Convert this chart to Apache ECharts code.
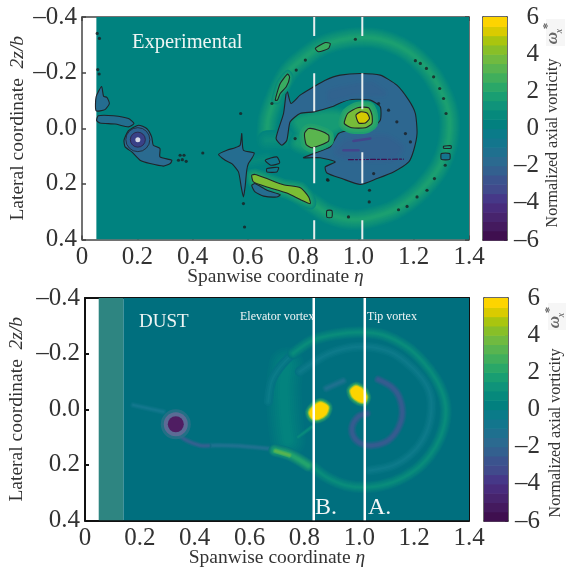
<!DOCTYPE html>
<html>
<head>
<meta charset="utf-8">
<style>html,body{margin:0;padding:0;background:#fff}#c{width:566px;height:572px}#c canvas{filter:blur(.45px)}</style>
<script src="https://cdn.jsdelivr.net/npm/echarts@6/dist/echarts.min.js"></script>
</head>
<body>
<div id="c"></div>
<script>
// ---------- colour scale: 24 bands from -6 to 6 ----------
const bandColors = ['#3f0f4f','#441a5e','#47246d','#482c7c','#463888','#414a8c','#3b538e','#33608f','#2b6a90','#1f708f','#13768d','#0a7b89',
  '#02807f','#06897c','#0f937a','#199e72','#2aa768','#40ae5c','#58b450','#70ba40','#88bf28','#a9c50f','#d9cb00','#fdd400'];

// ---------- experimental panel (eta, z) ----------
const expRing = [[.669,.043],[.675,-.041],[.717,-.149],[.753,-.209],[.801,-.251],[.862,-.293],[.934,-.317],[1.007,-.326],[1.079,-.320],[1.152,-.293],[1.212,-.251],[1.266,-.191],[1.308,-.113],[1.327,-.053],[1.330,.001],[1.321,.067],[1.296,.133],[1.254,.193],[1.200,.247],[1.127,.295],[1.055,.319],[1.007,.328],[.946,.325],[.886,.305],[.838,.274],[.789,.241]];
const expCrescent = [[.741,-.137],[.756,-.089],[.789,-.119],[.838,-.149],[.880,-.173],[.934,-.191],[1.007,-.197],[1.079,-.191],[1.139,-.155],[1.182,-.101],[1.206,-.053],[1.212,.019],[1.200,.079],[1.182,.121],[1.127,.157],[1.067,.181],[1.007,.202],[.940,.181],[.886,.161],[.880,.139],[.916,.121],[.862,.106],[.801,.106],[.838,.091],[.898,.067],[.928,.019],[.970,.007],[1.043,.001],[1.079,-.029],[1.079,-.077],[1.043,-.101],[.964,-.103],[.904,-.077],[.838,-.059],[.789,-.053],[.753,-.023],[.741,.043],[.723,.061],[.702,.037],[.729,-.053]];
const expCoreGlow = [[.775,-.025],[.838,-.045],[.910,-.050],[.950,-.040],[.930,-.005],[.885,.019],[.880,.055],[.826,.075],[.775,.055],[.795,.019]];
const expDarkLow = [[.960,.050],[1.095,.035],[1.150,.070],[1.125,.105],[.990,.105],[.925,.085]];
const expDarkHigh = [[.900,-.130],[1.043,-.157],[1.090,-.125],[.982,-.125],[.900,-.105]];
const expTipOuter = [[.949,-.017],[.961,-.053],[.997,-.074],[1.037,-.074],[1.049,-.047],[1.049,-.017],[1.025,-.002],[.976,-.002]];
const expTipInner = [[.991,-.047],[1.007,-.059],[1.031,-.055],[1.040,-.035],[1.025,-.019],[1.001,-.019]];
const expElevator = [[.805,.019],[.820,.001],[.856,.007],[.892,.025],[.892,.046],[.862,.061],[.832,.070],[.811,.058]];
const expStrip = [[.614,.169],[.626,.166],[.669,.181],[.729,.203],[.790,.214],[.820,.247],[.826,.271],[.795,.259],[.741,.233],[.669,.211],[.620,.193]];
const expStripBlue = [[.614,.205],[.626,.199],[.669,.223],[.717,.239],[.705,.247],[.657,.244],[.626,.229]];
const expUpperStrip = [[.699,-.101],[.717,-.161],[.744,-.195],[.751,-.183],[.739,-.149],[.717,-.125],[.707,-.101]];
const expRingPatch = [[.844,-.287],[.880,-.308],[.898,-.305],[.892,-.287],[.856,-.275]];
const expRingPatch2 = [[.886,.296],[.904,.296],[.904,.320],[.886,.320]];
const expRingPatch3 = [[1.308,.065],[1.335,.063],[1.335,.072],[1.308,.072]];
const expRingPatch4 = [[1.300,.091],[1.330,.091],[1.330,.112],[1.300,.112]];
const expLeftBlob = [[.051,-.113],[.071,-.150],[.078,-.115],[.090,-.111],[.099,-.089],[.083,-.067],[.051,-.063]];
const expTail = [[.053,-.027],[.059,-.045],[.114,-.045],[.168,-.035],[.188,-.017],[.168,-.005],[.120,-.015],[.065,-.019]];
const expWingVortex = [[.152,.043],[.168,.009],[.204,-.011],[.234,.001],[.252,.031],[.258,.061],[.282,.073],[.282,.103],[.325,.115],[.319,.127],[.295,.136],[.246,.127],[.210,.115],[.180,.085],[.156,.067]];
const expMidBlob = [[.494,.094],[.524,.079],[.554,.070],[.572,.061],[.578,.019],[.584,.079],[.623,.089],[.614,.109],[.602,.127],[.596,.151],[.590,.211],[.584,.247],[.576,.211],[.566,.157],[.542,.127],[.518,.115]];
const expSmallA = [[.663,.115],[.705,.103],[.715,.125],[.683,.133]];
const expSmallB = [[.669,.145],[.711,.141],[.705,.157],[.669,.157]];
const expBridge = [[.669,.043],[.735,.04],[.80,.04]];
const expBridgeLow = [[.609,.12],[.669,.108]];
const expStreakDark1 = [[.946,.079],[1.000,.079]];
const expStreakDark2 = [[.982,.046],[1.043,.037]];
const expContourDash = [[.964,.113],[1.163,.111]];
const expSpecks = [[.055,-.341],[.063,-.323],[.057,-.211],[.062,-.195],[.574,-.053],[.584,.271],[.588,.355],[.437,.089],[.355,.097],[.369,.097],[.349,.115],[.377,.119],[.363,.113],[.687,-.089],[.989,-.320],[.808,-.245],[.775,-.209],[1.206,-.243],[1.224,-.233],[1.246,-.215],[1.272,-.185],[1.294,-.143],[1.308,-.107],[1.317,-.053],[1.314,.133],[.890,.187],[1.040,.223],[1.039,.265],[.964,.319],[1.145,.293],[1.176,.281],[1.212,.247],[1.248,.223],[1.275,.181],[.771,.037],[1.170,.019],[1.188,.049],[1.109,-.065],[1.139,-.023],[1.073,-.089],[1.055,.163],[.888,.185]];
const expCorePoint = [[.202,.041]];
const expLineB = [[[.84,-.4],[.84,-.332]],[[.84,-.198],[.84,-.061]],[[.84,.067],[.84,.198]],[[.84,.331],[.84,.4]]];
const expLineA = [[[1.014,-.4],[1.014,-.332]],[[1.014,-.198],[1.014,-.068]],[[1.014,.086],[1.014,.198]],[[1.014,.331],[1.014,.4]]];

// ---------- DUST panel (eta, z) ----------
const dustRing = [[.759,-.201],[.832,-.249],[.917,-.270],[1.002,-.277],[1.087,-.267],[1.172,-.225],[1.232,-.171],[1.281,-.105],[1.311,-.033],[1.314,.033],[1.293,.106],[1.257,.166],[1.202,.220],[1.123,.262],[1.038,.280],[.953,.274],[.880,.244],[.832,.208]];
const dustRingLeft = [[.668,-.027],[.680,-.099],[.710,-.150],[.759,-.201]];
const dustInnerRing = [[.783,-.135],[.892,-.201],[1.002,-.225],[1.111,-.207],[1.196,-.147],[1.251,-.075],[1.263,-.003],[1.245,.082],[1.196,.154],[1.123,.202],[1.038,.220]];
const dustGlowArc = [[.735,-.159],[.725,-.087],[.730,.033],[.740,.110]];
const dustSpiral = [[1.028,.015],[.996,.027],[.974,.063],[.980,.100],[1.008,.124],[1.050,.130],[1.105,.112],[1.141,.070],[1.157,.015],[1.145,-.045],[1.117,-.081],[1.069,-.107]];
const dustSpiralFaint = [[.880,-.075],[.941,-.102]];
const dustBlobA = [[.975,-.066],[.988,-.076],[1.006,-.068],[1.020,-.045],[1.016,-.032],[1.000,-.035],[.982,-.048]];
const dustBlobB = [[.825,.012],[.838,-.006],[.860,-.018],[.880,-.006],[.873,.014],[.850,.028],[.832,.027]];
const dustStreak = [[.692,.148],[.747,.163],[.814,.202]];
const dustStreakBright = [[.695,.150],[.745,.165]];
const dustStreakB = [[.777,.100],[.826,.064]];
const dustTail = [[.328,.082],[.370,.112],[.419,.130],[.479,.130],[.565,.132],[.674,.142]];
const dustTailPurple = [[.328,.082],[.370,.112],[.419,.130],[.450,.131]];
const dustTailTop = [[.176,-.015],[.285,.009]];
const dustCorePoint = [[.331,.054]];
const dustLineB = [[[.834,-.4],[.834,.4]]];
const dustLineA = [[[1.02,-.4],[1.02,.4]]];

const EXP_BG = '#00827f', DUST_BG = '#006f7e', C = '#20242a';

const toRgb = h => [1,3,5].map(i => parseInt(h.substr(i,2),16));
function mix(a,b,t){
  const A = toRgb(a), B = toRgb(b);
  return 'rgb(' + A.map((v,i)=>Math.round(v+(B[i]-v)*t)).join(',') + ')';
}
const hexMix = (a,b,t) => '#' + mix(a,b,t).match(/\d+/g).map(n=>(+n).toString(16).padStart(2,'0')).join('');
function colorOf(v){
  const x = Math.max(0, Math.min(22.999, (v + 6) * 2 - 0.5));
  const i = Math.floor(x);
  return hexMix(bandColors[i], bandColors[i+1], x - i);
}
const P = (pts, value, o) => Object.assign({kind:'poly', pts, color:colorOf(value)}, o||{});
const L = (pts, value, width, o) => Object.assign({kind:'line', pts, width, color:colorOf(value)}, o||{});
// soft-edged mark: a stack of strokes going from background colour to the peak colour
function soft(kind, pts, bg, value, maxW, minW, n){
  const out = [], peak = colorOf(value);
  for(let i=0;i<n;i++){
    const t = (i+1)/n;
    out.push({kind, pts, width:maxW+(minW-maxW)*i/(n-1||1), color:hexMix(bg,peak,t), solid:true});
  }
  return out;
}

const expFeatures = [
  {kind:'poly', pts:[[.052,-.4],[1.4,-.4],[1.4,.4],[.052,.4]], color:EXP_BG, smooth:0},
  ...soft('line', expRing, EXP_BG, 1.8, 21, 3, 10),
  ...soft('line', expBridge, EXP_BG, 1.0, 20, 4, 6),
  ...soft('line', expBridgeLow, EXP_BG, .8, 12, 2, 4),
  ...soft('poly', expCoreGlow, EXP_BG, 1.6, 16, 1, 7),
  P(expCrescent, -1.9, {stroke:C}),
  ...soft('poly', expDarkLow, colorOf(-1.9), -2.2, 12, 1, 4),
  ...soft('poly', expDarkHigh, colorOf(-1.9), -2.1, 10, 1, 3),
  L(expStreakDark1, -3.4, 2.5), L(expStreakDark2, -3.4, 2.5),
  L(expContourDash, -6, 1.2, {dash:[5,2,2,2]}),
  ...soft('poly', expTipOuter, colorOf(1.6), 2.6, 12, 1, 4),
  P(expTipOuter, 3.9, {stroke:C}),
  P(expTipInner, 5.2, {stroke:C}),
  ...soft('poly', expElevator, colorOf(1.6), 2.4, 10, 1, 3),
  P(expElevator, 3.3, {stroke:C}),
  ...soft('poly', expStrip, EXP_BG, 2, 12, 1, 5),
  P(expStrip, 4, {stroke:C}),
  P(expStripBlue, -1.5, {stroke:C}),
  ...soft('poly', expUpperStrip, EXP_BG, 2, 8, 1, 4),
  P(expUpperStrip, 2.6, {stroke:C}),
  P(expRingPatch, 2.6, {stroke:C}), P(expRingPatch2, 2, {stroke:C}),
  P(expRingPatch3, 1.6, {stroke:C}), P(expRingPatch4, -.8, {stroke:C}),
  P(expLeftBlob, -1.5, {stroke:C}), P(expTail, -1.4, {stroke:C}),
  P(expWingVortex, -1.7, {stroke:C}),
  P(expMidBlob, -1.5, {stroke:C}),
  P(expSmallA, -.6, {stroke:C}), P(expSmallB, -.6, {stroke:C}),
  ...expLineB.map(p => ({kind:'line', pts:p, width:2, color:'#e6eeee', cap:'butt'})),
  ...expLineA.map(p => ({kind:'line', pts:p, width:2, color:'#e6eeee', cap:'butt'}))
];

const dustFeatures = [
  {kind:'poly', pts:[[.05,-.4],[.14,-.4],[.14,.4],[.05,.4]], color:'#2e8581', smooth:0},
  {kind:'poly', pts:[[.14,-.4],[1.4,-.4],[1.4,.4],[.14,.4]], color:DUST_BG, smooth:0},
  ...soft('line', dustGlowArc, DUST_BG, .4, 36, 8, 8),
  ...soft('line', dustInnerRing, DUST_BG, -.4, 10, 2, 4),
  ...soft('line', dustRingLeft, DUST_BG, -.3, 9, 2, 3),
  ...soft('line', dustRing, DUST_BG, .9, 12, 2, 6),
  ...soft('line', dustSpiralFaint, DUST_BG, -1.2, 8, 2, 4),
  ...soft('line', dustSpiral, DUST_BG, -2.4, 9, 3, 6),
  ...soft('line', dustTailTop, DUST_BG, -.7, 6, 2, 3),
  ...soft('line', dustTail, DUST_BG, -1.2, 6, 2, 4),
  ...soft('line', dustTailPurple, DUST_BG, -2.2, 6, 2, 4),
  ...soft('line', dustStreak, DUST_BG, 2.0, 13, 3, 7),
  ...soft('line', dustStreakBright, colorOf(2.0), 3.2, 5, 2, 3),
  ...soft('line', dustStreakB, DUST_BG, .8, 4, 2, 2),
  ...soft('poly', dustBlobA, DUST_BG, 2.6, 13, 7, 5),
  ...soft('poly', dustBlobA, colorOf(2.6), 5.9, 7, 4, 3),
  ...soft('poly', dustBlobB, DUST_BG, 2.6, 13, 7, 5),
  ...soft('poly', dustBlobB, colorOf(2.6), 5.9, 7, 4, 3),
  ...dustLineB.map(p => ({kind:'line', pts:p, width:2.5, color:'#ffffff', cap:'butt'})),
  ...dustLineA.map(p => ({kind:'line', pts:p, width:2.5, color:'#ffffff', cap:'butt'}))
];

function featureSeries(features, axisIndex){
  return {
    type:'custom', xAxisIndex:axisIndex, yAxisIndex:axisIndex, silent:true, clip:true,
    data:features.map((f,i)=>[f.pts[0][0], f.pts[0][1], i]),
    encode:{x:0,y:1},
    renderItem(params, api){
      const f = features[api.value(2)];
      const points = f.pts.map(p=>api.coord(p));
      if(f.kind==='poly'){
        const sw = f.solid ? f.width : (f.stroke?1.1:0);
        return {type:'polygon', shape:{points, smooth:f.smooth===0?0:0.2},
          style:{fill:f.color, stroke:f.solid?f.color:(f.stroke||null), lineWidth:sw, lineJoin:'round'}};
      }
      return {type:'polyline', shape:{points, smooth:points.length>2?0.3:0},
        style:{fill:null, stroke:f.color, lineWidth:f.width, lineCap:f.cap||'round', lineJoin:'round', lineDash:f.dash||null}};
    }
  };
}
function colorbarSeries(axisIndex){
  return {
    type:'custom', xAxisIndex:axisIndex, yAxisIndex:axisIndex, silent:true,
    data:bandColors.map((c,i)=>[0, -6+i*0.5, i]),
    encode:{x:0,y:1},
    renderItem(params, api){
      const i = api.value(2), lo = api.coord([0,-6+i*0.5]), hi = api.coord([1,-5.5+i*0.5]);
      return {type:'rect', shape:{x:lo[0], y:hi[1], width:hi[0]-lo[0], height:lo[1]-hi[1]+0.6}, style:{fill:bandColors[i]}};
    }
  };
}
function scatterS(data, axisIndex, size, color, o){
  return Object.assign({type:'scatter', xAxisIndex:axisIndex, yAxisIndex:axisIndex, data, symbolSize:size, silent:true,
    itemStyle:{color}, z:3}, o||{});
}

const FONT = 'Liberation Serif';
const zFmt = v => (v<0?'\u2013':'')+Math.abs(v).toFixed(1);
const etaFmt = v => v===0?'0':v.toFixed(1);

function mainAxes(idx, lineColor, lineW, gapY){
  const line = {show:true, onZero:false, lineStyle:{color:lineColor, width:lineW}};
  const tick = {show:true, inside:true, length:4, lineStyle:{color:lineColor, width:lineW}};
  const lab = {fontFamily:FONT, fontSize:25, color:'#333'};
  const rich = {i:{fontFamily:FONT, fontStyle:'italic', fontSize:19.5, color:'#333'}};
  return {
    x:[{gridIndex:idx, type:'value', min:0, max:1.4, interval:0.2, position:'bottom', axisLine:line, axisTick:tick, splitLine:{show:false},
        axisLabel:Object.assign({margin:5, formatter:etaFmt, showMinLabel:true, showMaxLabel:true}, lab),
        name:'Spanwise coordinate {i|\u03b7}', nameLocation:'middle', nameGap:27, nameMoveOverlap:false,
        nameTextStyle:{fontFamily:FONT, fontSize:19.5, color:'#333', rich}},
       {gridIndex:idx, type:'value', min:0, max:1.4, interval:0.2, position:'top', axisLine:line, axisTick:tick, axisLabel:{show:false}, splitLine:{show:false}}],
    y:[{gridIndex:idx, type:'value', min:-0.4, max:0.4, interval:0.2, inverse:true, position:'left', axisLine:line, axisTick:tick, splitLine:{show:false},
        axisLabel:Object.assign({margin:5, formatter:zFmt, showMinLabel:true, showMaxLabel:true}, lab),
        name:'Lateral coordinate  {i|2z/b}', nameLocation:'middle', nameGap:gapY, nameMoveOverlap:false,
        nameTextStyle:{fontFamily:FONT, fontSize:19.5, color:'#333', rich}},
       {gridIndex:idx, type:'value', min:-0.4, max:0.4, interval:0.2, inverse:true, position:'right', axisLine:line, axisTick:tick, axisLabel:{show:false}, splitLine:{show:false}}]
  };
}
function cbAxes(idx){
  const line = {show:true, onZero:false, lineStyle:{color:'#3a3a3a', width:1.5}};
  return {
    x:[{gridIndex:idx, type:'value', min:0, max:1, position:'bottom', axisLine:line, axisTick:{show:false}, axisLabel:{show:false}, splitLine:{show:false}},
       {gridIndex:idx, type:'value', min:0, max:1, position:'top', axisLine:line, axisTick:{show:false}, axisLabel:{show:false}, splitLine:{show:false}}],
    y:[{gridIndex:idx, type:'value', min:-6, max:6, interval:2, position:'right', axisLine:line,
        axisTick:{show:true, inside:true, length:3, lineStyle:{color:'#3a3a3a'}}, splitLine:{show:false},
        axisLabel:{margin:32, align:'right', formatter:v=>(v<0?'\u2013':'')+Math.abs(v), fontFamily:FONT, fontSize:25, color:'#333', showMinLabel:true, showMaxLabel:true}},
       {gridIndex:idx, type:'value', min:-6, max:6, interval:2, position:'left', axisLine:line, axisTick:{show:false}, axisLabel:{show:false}, splitLine:{show:false}}]
  };
}

const A0 = mainAxes(0,'#444',1.5,54), A1 = cbAxes(1), A2 = mainAxes(2,'#111',2,58), A3 = cbAxes(3);
const xAxes = [A0.x[0],A1.x[0],A2.x[0],A3.x[0],A0.x[1],A1.x[1],A2.x[1],A3.x[1]];
const yAxes = [A0.y[0],A1.y[0],A2.y[0],A3.y[0],A0.y[1],A1.y[1],A2.y[1],A3.y[1]];

function txt(text,x,y,font,fill,rot,align){
  return {type:'text', x, y, rotation:rot||0, z:50, style:{text, font, fill, align:align||'left', verticalAlign:'middle'}};
}
const R = Math.PI/2;
function omega(x,y){
  return [
    {type:'rect', x:x-6, y:y-19, z:49, shape:{width:19,height:27}, style:{fill:'#f6f6f6'}},
    txt('\u03c9',x+1,y,'italic bold 17px "Liberation Serif"','#666',R,'center'),
    txt('*',x-4,y-12,'bold 13px "Liberation Serif"','#666',R,'center'),
    txt('x',x+7,y-7,'italic 10px "Liberation Serif"','#666',R,'center')
  ];
}

const chart = echarts.init(document.getElementById('c'), null, {renderer:'canvas'});
const gridBase = {outerBoundsMode:'none', containLabel:false};
chart.setOption({
  animation:false,
  backgroundColor:'#fff',
  grid:[
    Object.assign({left:82, top:17, width:387, height:222.5}, gridBase),
    Object.assign({left:483, top:17, width:24, height:223}, gridBase),
    Object.assign({left:85, top:298, width:384, height:222.5}, gridBase),
    Object.assign({left:484, top:298, width:24, height:223}, gridBase)
  ],
  xAxis:xAxes,
  yAxis:yAxes,
  series:[
    featureSeries(expFeatures,0),
    scatterS(expSpecks,0,3.2,'#1a1e22'),
    scatterS(expCorePoint,0,24,'#2d5f90',{itemStyle:{color:'#2d5f90',borderColor:'#20242a',borderWidth:1}}),
    scatterS(expCorePoint,0,15,'#3d3a85',{itemStyle:{color:'#3d3a85',borderColor:'#2a2040',borderWidth:1},z:4}),
    scatterS(expCorePoint,0,5,'#ffffff',{z:5}),
    colorbarSeries(1),
    featureSeries(dustFeatures,2),
    scatterS(dustCorePoint,2,30,'#2a7088',{z:3}),
    scatterS(dustCorePoint,2,24,'#6a6a98',{z:3}),
    scatterS(dustCorePoint,2,16,'#4c0a55',{z:4}),
    colorbarSeries(3)
  ],
  graphic:[
    txt('Experimental',132,43,'20.5px "Liberation Serif"','#eef5f4'),
    txt('DUST',139,322,'19px "Liberation Serif"','#eef5f4'),
    txt('Elevator vortex',240,317,'12px "Liberation Serif"','#f2f6f6'),
    txt('Tip vortex',367,317,'12px "Liberation Serif"','#f2f6f6'),
    txt('B.',315,508,'24px "Liberation Serif"','#f2f6f6'),
    txt('A.',368,508,'24px "Liberation Serif"','#f2f6f6'),
    txt('Normalized axial vorticity',553,143,'16px "Liberation Serif"','#333',R,'center'),
    txt('Normalized axial vorticity',556,433,'16px "Liberation Serif"','#333',R,'center'),
    ...omega(552,38),
    ...omega(554,322)
  ]
});
</script>
</body>
</html>
